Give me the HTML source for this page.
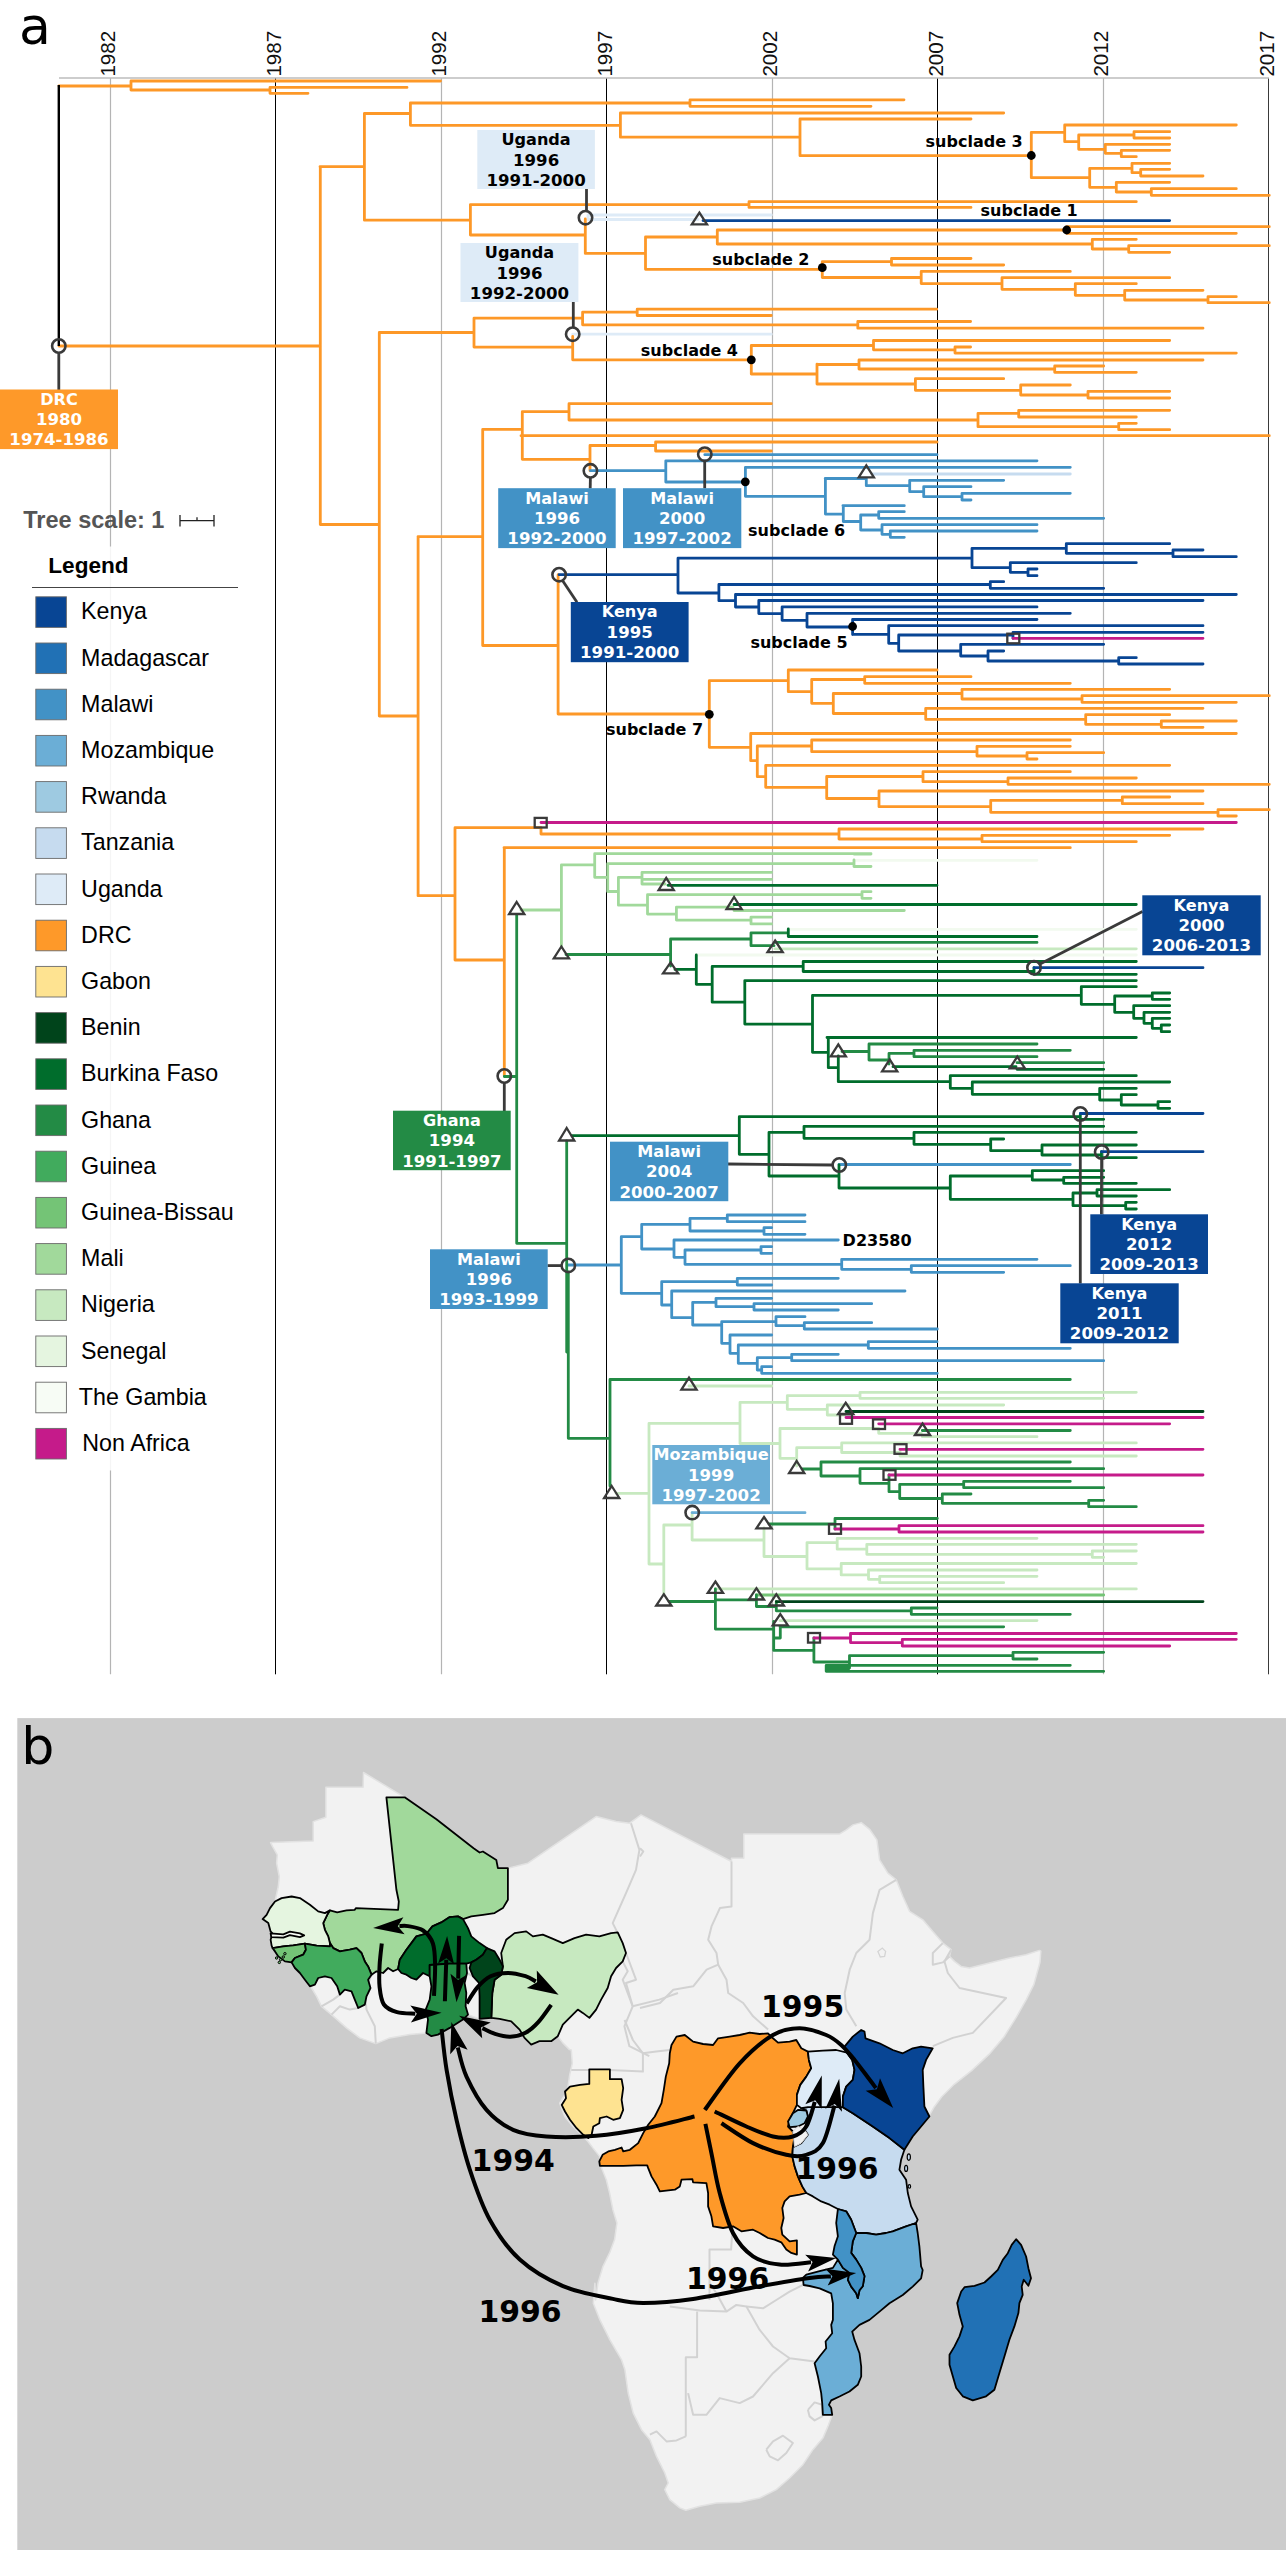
<!DOCTYPE html>
<html><head><meta charset="utf-8"><title>Figure</title>
<style>html,body{margin:0;padding:0;background:#fff}svg{display:block}text{font-family:"Liberation Sans",sans-serif}.dv text,text.dv{font-family:"DejaVu Sans","Liberation Sans",sans-serif}</style>
</head><body>
<svg width="1286" height="2550" viewBox="0 0 1286 2550">
<rect width="1286" height="2550" fill="#fff"/>
<text x="19" y="43.8" font-size="52" class="dv" fill="#000">a</text>
<path d="M110.5 78V1674.3" stroke="#b4b4b4" stroke-width="1.2"/>
<text transform="translate(115.3 76.6) rotate(-90)" font-size="20.6" fill="#111">1982</text>
<path d="M275.5 78V1674.3" stroke="#000" stroke-width="1"/>
<text transform="translate(280.8 76.6) rotate(-90)" font-size="20.6" fill="#111">1987</text>
<path d="M441.5 78V1674.3" stroke="#b4b4b4" stroke-width="1.2"/>
<text transform="translate(446.3 76.6) rotate(-90)" font-size="20.6" fill="#111">1992</text>
<path d="M606.5 78V1674.3" stroke="#000" stroke-width="1"/>
<text transform="translate(611.8 76.6) rotate(-90)" font-size="20.6" fill="#111">1997</text>
<path d="M772.5 78V1674.3" stroke="#b4b4b4" stroke-width="1.2"/>
<text transform="translate(777.3 76.6) rotate(-90)" font-size="20.6" fill="#111">2002</text>
<path d="M937.5 78V1674.3" stroke="#000" stroke-width="1"/>
<text transform="translate(942.8 76.6) rotate(-90)" font-size="20.6" fill="#111">2007</text>
<path d="M1103.5 78V1674.3" stroke="#b4b4b4" stroke-width="1.2"/>
<text transform="translate(1108.3 76.6) rotate(-90)" font-size="20.6" fill="#111">2012</text>
<path d="M1268.5 78V1674.3" stroke="#3a3a3a" stroke-width="1"/>
<text transform="translate(1273.8 76.6) rotate(-90)" font-size="20.6" fill="#111">2017</text>
<path d="M59 78H1269" stroke="#bdbdbd" stroke-width="1.5"/>
<g fill="none" stroke-width="2.8" stroke-linecap="round">
<path stroke="#F2FAEF" d="M854 860.3H1037M788.3 929.3H1136.3M696.3 955H1136.3"/>
<path stroke="#C7E9C0" d="M775 948.8H1136.3M689 1386H771.7M616 1493.3H648M649 1423.3V1564M649 1423.3H739M740 1402.3V1443.5M740 1402.3H786.3M787.3 1395.7V1409.3M787.3 1395.7H859M860 1392.3V1398.3M860 1392.3H1136.3M860 1398.3H1103.7M787.3 1409.3H826.3M827.3 1405V1415M827.3 1405H1003.7M827.3 1415H844.7M740 1443.5H779M780 1428.5V1458.3M780 1428.5H877.7M878.7 1428.5V1433.3M878.7 1433.3H921.3M922.3 1436.7H1037M780 1458.3H795.7M796.7 1447.7V1466M796.7 1447.7H840.7M841.7 1442.9V1452.5M841.7 1442.9H1136.3M841.7 1452.5H899M900 1449.3V1456M900 1456H1136.3M649 1564H662.8M663.8 1525V1594M663.8 1525H691.1M692.1 1512.7V1540M692.1 1540H763M764 1528V1556.5M764 1556.5H806M807 1542.6V1568.9M807 1542.6H836.2M837.2 1538.3V1549.2M837.2 1538.3H1037M837.2 1549.2H865.8M866.8 1544.3V1554.3M866.8 1544.3H1136.3M866.8 1554.3H1091.3M1092.3 1551V1557.3M1092.3 1551H1136.3M1092.3 1557.3H1103.7M807 1568.9H840.2M841.2 1563.5V1574.9M841.2 1563.5H1136.3M841.2 1574.9H867.5M868.5 1570V1579.3M868.5 1570H1037M868.5 1579.3H878.7M879.7 1576.3V1582.7M879.7 1576.3H1037M879.7 1582.7H1003.7M715.4 1588.9H1136.3M780 1620.6H1037"/>
<path stroke="#DEEBF7" d="M588 215H771.3M588 219.5H698M588 215V219.5M572.7 334.2H771.3"/>
<path stroke="#C6DBEF" d="M872 474H1070.3"/>
<path stroke="#A1D99B" d="M561.4 864.9V946M561.4 864.9H593.7M594.7 853.7V877.3M594.7 853.7H871M594.7 877.3H606.7M607.7 863.6V891.5M607.7 863.6H853M854 860V866.5M854 866.5H871M854 854H871M607.7 891.5H617.4M618.4 877.3V905.2M618.4 877.3H641M642 872.3V884M642 872.3H771.6M642 879.3H771.6M642 884H665M618.4 905.2H646.5M647.5 894.7V914.1M647.5 894.7H861M862 891.7V898.3M862 891.7H871M862 898.3H871M647.5 914.1H675.4M676.4 907.2V920.1M676.4 907.2H733M734 910.5H904.3M676.4 920.1H750M751 917.1V923.9M751 917.1H771.6M751 923.9H771.6M521 910H560.4"/>
<path stroke="#74C476" d="M756.4 1595H1103.7"/>
<path stroke="#FD9827" d="M59 86H130M131 81V90M131 81H440.5M131 90H269M270 87.4V93.3M270 87.4H407M270 93.3H308M59 346H319M320 166.7H363.4M364.4 113.5V220.2M364.4 113.5H409.4M410.4 103V125.3M410.4 103H689M690 99.8V106.3M690 99.8H904M690 106.3H871M410.4 125.3H619.4M620.4 113V137.2M620.4 113H1003.7M620.4 137.2H799M800 119V155.7M800 119H971M800 155.7H1030.3M1031.3 132.3V177.7M1031.3 132.3H1063.7M1064.7 125V141.7M1064.7 125H1236.3M1064.7 141.7H1077.7M1078.7 135V149.3M1078.7 135H1133M1134 131.7V138M1134 131.7H1169.7M1134 138H1169.7M1078.7 149.3H1104.3M1105.3 144.3V153.3M1105.3 144.3H1169.7M1105.3 153.3H1120.3M1121.3 150.3V156.7M1121.3 150.3H1169.7M1121.3 156.7H1136.3M1031.3 177.7H1088.7M1089.7 168.3V187.3M1089.7 168.3H1131M1132 163.3V172.7M1132 163.3H1169.7M1132 172.7H1139.7M1140.7 169.3V176M1140.7 169.3H1169.7M1140.7 176H1203M1089.7 187.3H1115.3M1116.3 182.3V192M1116.3 182.3H1169.7M1116.3 192H1150.3M1151.3 188.7V195.3M1151.3 188.7H1236.3M1151.3 195.3H1269.3M364.4 220.2H469.4M470.4 204.6V235M470.4 204.6H748M749 201.7V207.4M749 201.7H1136.3M749 207.4H971M470.4 235H584.3M585.3 219V253.4M585.3 253.4H644.5M645.5 237V269.3M645.5 237H716.3M717.3 230V244M717.3 230H1065.7M1066.7 226.7V233.3M1066.7 226.7H1269.3M1066.7 233.3H1236.3M717.3 244H1091.3M1092.3 239.3V249M1092.3 239.3H1136.3M1092.3 249H1127.7M1128.7 245.7V252.3M1128.7 245.7H1269.3M1128.7 252.3H1169.7M645.5 269.3H821.3M822.3 261.7V277.5M822.3 261.7H890.5M891.5 258.5V265M891.5 258.5H971M891.5 265H1003.7M822.3 277.5H920.2M921.2 271.4V283.6M921.2 271.4H1070.3M921.2 283.6H1001M1002 277.7V289.3M1002 277.7H1169.7M1002 289.3H1074.3M1075.3 283.7V295.3M1075.3 283.7H1136.3M1075.3 295.3H1123.7M1124.7 290.3V300M1124.7 290.3H1203M1124.7 300H1207M1208 296.7V302.7M1208 296.7H1236.3M1208 302.7H1269.3M379.3 332.5H473M474 318.2V347.1M474 318.2H581.6M582.6 312.2V324.8M582.6 312.2H636.2M637.2 309.2V315.5M637.2 309.2H936.7M637.2 315.5H771.3M582.6 324.8H856.8M857.8 321.5V328.2M857.8 321.5H970.6M857.8 328.2H1203M474 347.1H571.7M572.7 336.5V359.8M572.7 359.8H750.3M751.3 345.5V374M751.3 345.5H872.5M873.5 340.5V349.8M873.5 340.5H1169.7M873.5 349.8H954M955 347V353.1M955 347H970.6M955 353.1H1236.3M751.3 374H816M817 364.1V384M817 364.5H858M859 360V369M859 360H1203M859 369H1053.7M1054.7 366V372.3M1054.7 366H1103.7M1054.7 372.3H1136.3M817 384H914.4M915.4 378.7V390.3M915.4 378.7H1003.7M915.4 390.3H1019.7M1020.7 385V395M1020.7 385H1070.3M1020.7 395H1087M1088 391.3V398M1088 391.3H1169.7M1088 398H1169.7M569 420H977M978 413.3V426.7M978 413.3H1017.7M1018.7 410.3V417M1018.7 410.3H1169.7M1018.7 417H1136.3M978 426.7H1117.7M1118.7 423.3V429.7M1118.7 423.3H1136.3M1118.7 429.7H1169.7M569 403.7V420M569 403.7H771.3M418 536.7H481.7M482.7 429.3V645.5M482.7 429.3H521.3M522.3 411.7V459.3M522.3 411.7H568M521 435.7H1269.3M522.3 459.3H589M590 445.5V470.8M590 445.5H654.6M655.6 442V451M655.6 442H937M655.6 451H771.3M482.7 645.5H557.1M558.1 574.7V714M864.7 676.7V683.3M864.7 676.7H971M864.7 683.3H1070.3M962 689.3V699M962 689.3H1169.7M962 699H1081M1082 695.7V702.3M1082 695.7H1269.3M1082 702.3H1236.3M925.7 708.3V719.3M925.7 708.3H1203M925.7 719.3H1084.7M1085.7 714.7V724.3M1085.7 714.7H1169.7M1085.7 724.3H1160.3M1161.3 721V727.3M1161.3 721H1236.3M1161.3 727.3H1203M977 746.3V756M977 746.3H1070.3M977 756H1026M1027 752.7V759M1027 752.7H1103.7M1027 759H1037M923 771.7V781.7M923 771.7H1070.3M923 781.7H1007M1008 778V784.3M1008 778H1136.3M1008 784.3H1269.3M879 791V806.7M879 791H1203M879 806.7H989.7M990.7 800.3V812.3M990.7 800.3H1121.3M1122.3 797V803.7M1122.3 797H1169.7M1122.3 803.7H1203M990.7 812.3H1217M1218 809.7V816M1218 809.7H1269.3M1218 816H1236.3M982 835.3V841.7M982 835.3H1169.7M982 841.7H1136.3M558.1 714H708.3M709.3 680.7V747.3M709.3 680.7H787.3M788.3 670V691.7M788.3 670H937M788.3 691.7H810.7M811.7 679.5V703.3M811.7 679.5H863.7M811.7 703.3H832.3M833.3 693.5V713.5M833.3 693.5H961M833.3 713.5H924.7M709.3 747.3H749.7M750.7 733.5V760.7M750.7 733.5H1236.3M750.7 760.7H756.3M757.3 746V776.7M757.3 746H810.7M811.7 740V751.7M811.7 740H1070.3M811.7 751.7H976M757.3 776.7H764.7M765.7 765.3V787.3M765.7 765.3H1169.7M765.7 787.3H825.7M826.7 776.5V798.5M826.7 776.5H922M826.7 798.5H878M455 827.7H540M541 827.7V834M541 834H838M839 829V839M839 829H1203M839 839H981M504 847.7H1070.3M504.3 847.7V1076M455 827.7V960M418 895.7H454M455 960H503.3M320.3 166.7V524.5M320.3 524.5H378.3M379.3 332.5V716M379.3 716H417.1M418.1 536.7V895.5"/>
<path stroke="#6BAED6" d="M692.2 1512.7H805"/>
<path stroke="#4292C6" d="M704.8 454.7H937M665.8 460.8H1037M745.4 467.3H1070.3M590.4 470.6H664.8M665.8 460.8V482M665.8 482H744.4M745.4 467.3V496.3M745.4 496.3H824.2M825.2 478.5H865.3M866.3 478.3V485.7M866.3 485.7H908.7M909.7 480.3V491.7M909.7 480.3H1003.7M909.7 491.7H922.7M923.7 486.7V496.7M923.7 486.7H971M923.7 496.7H961M962 493.3V500M962 493.3H1070.3M962 500H971M842.9 505.7H904.3M860.7 515V530M860.7 515H877.7M878.7 511.7V518.3M878.7 511.7H904.3M878.7 518.3H1103.7M860.7 530H881M882 524.7V534.3M882 524.7H1037M882 534.3H889.3M890.3 531V537.3M890.3 531H1037M890.3 537.3H904.3M825.4 514.1H842.3M825.4 478.5V514.1M843.3 505.7V521.5M843.3 521.5H859.7M839 1164.5H1070.3M568.3 1265H620.3M621.3 1236.7V1293.3M621.3 1236.7H640.7M641.7 1224.3V1249M641.7 1224.3H689M690 1218.3V1231M690 1218.3H726.3M727.3 1215V1221.7M727.3 1215H805M727.3 1221.7H805M690 1231H763M764 1227.7V1234.3M764 1227.7H771.7M764 1234.3H805M641.7 1249H673M674 1240V1257.3M674 1240H838.3M674 1257.3H684M685 1250V1264.3M685 1250H760M761 1246.7V1253.3M761 1246.7H771.7M761 1253.3H771.7M685 1264.3H840.7M841.7 1259.3V1269.3M841.7 1259.3H1037M841.7 1269.3H910.3M911.3 1265.7V1272.3M911.3 1265.7H1070.3M911.3 1272.3H1003.7M621.3 1293.3H660.7M661.7 1281.7V1305M661.7 1281.7H736.3M737.3 1278.3V1285M737.3 1278.3H838.3M737.3 1285H771.7M661.7 1305H670.7M671.7 1291V1317.7M671.7 1291H905M671.7 1317.7H691.7M692.7 1302.3V1325M692.7 1302.3H715M716 1298.3V1306.7M716 1298.3H771.7M716 1306.7H753M754 1303.7V1310M754 1303.7H871.7M754 1310H838.3M692.7 1325H720.7M721.7 1321.7V1343.3M721.7 1321.7H775M776 1316.7V1325.7M776 1316.7H805M776 1325.7H803.3M804.3 1322.7V1329M804.3 1322.7H871.7M804.3 1329H937.3M721.7 1343.3H729M730 1335V1353.3M730 1335H771.7M730 1353.3H737.3M738.3 1345V1363.3M738.3 1345H867.3M868.3 1341.7V1348.3M868.3 1341.7H937M868.3 1348.3H1070.3M738.3 1363.3H756.3M757.3 1357.7V1370M757.3 1357.7H790.7M791.7 1354.3V1360.7M791.7 1354.3H838.3M791.7 1360.7H1103.7M757.3 1370H760.7M761.7 1366.7V1373.3M761.7 1366.7H771.7M761.7 1373.3H937.3"/>
<path stroke="#238B45" d="M566 954.5H669.6M670.6 939V966M670.6 939H750M751 932.8V945.7M751 932.8H787.3M751 945.7H774M775 942.4H1037M869 1044V1060M869 1044H1037M869 1060H888M889 1053.3V1064M889 1053.3H913M914 1050.3V1056.7M914 1050.3H1070.3M914 1056.7H1037M1017 1062.7H1103.7M516.7 915V1243.3M504.3 1076.5H515.7M516.7 1243.3H565.7M566.7 1141V1352M842 1051.5H868M568.3 1272V1438.3M568.3 1438.3H609M610 1379.5V1486M610 1379.5H1070.3M922.3 1430.5H1070.3M802 1469H820M821 1462V1476M821 1462H1070.3M821 1476H859M860 1468.7V1483.3M860 1468.7H1103.7M860 1483.3H888M889 1475V1491.7M889 1491.7H898.7M899.7 1484.3V1498.5M899.7 1484.3H962.7M963.7 1481.3V1487.7M963.7 1481.3H1070.3M963.7 1487.7H1103.7M899.7 1498.5H941.3M942.3 1494V1503.3M942.3 1494H971M942.3 1503.3H1087.7M1088.7 1500.3V1506.7M1088.7 1500.3H1103.7M1088.7 1506.7H1136.3M769 1524H834M835 1518.5V1529M835 1518.5H937.3M669 1601.5H714.4M715.4 1589V1629.1M715.4 1599.8H755.4M756.4 1595V1606.5M756.4 1606.5H775.3M776.3 1601.6V1610.8M776.3 1610.8H910.3M911.3 1608V1614.3M911.3 1608H937M911.3 1614.3H1070.3M715.4 1629.1H772.7M773.7 1621.4V1650.4M780 1626.8H1003.7M780.3 1626.8V1638M773.7 1638H779.3M773.7 1650.4H812.9M813.9 1638V1662M813.9 1662H848.5M849.5 1655.6V1668M849.5 1655.6H1012M1013 1652.3V1659M1013 1652.3H1103.7M1013 1659H1037M826.2 1665.3H1070.3M826.2 1671.3H1103.7M826.2 1668H848.5M826.2 1665.3V1671.3M826.2 1666.7H848.5M826.2 1669.6H848.5"/>
<path stroke="#006D2C" d="M668 885.3H937M734 904.5H1136.3M788.3 929V936.5M788.3 936.5H1037M675 969.4H695.3M696.3 955V984.3M696.3 984.3H711.2M712.2 966.4V1002.2M712.2 966.4H802.2M803.2 961.5V971.5M803.2 961.5H1136.3M803.2 971.5H1033M1034 967.7V974.3M1034 974.3H1136.3M712.2 1002.2H743.8M744.8 980.6V1024.1M744.8 980.6H1136.3M744.8 1024.1H811.5M812.5 995.3H1080.3M1081.3 986.7V1004.3M1081.3 986.7H1136.3M1081.3 1004.3H1113.7M1114.7 996V1012.3M1114.7 996H1151.3M1152.3 993V999.3M1152.3 993H1169.7M1152.3 999.3H1169.7M1114.7 1012.3H1132.7M1133.7 1005.7V1018.3M1133.7 1005.7H1169.7M1133.7 1018.3H1143M1144 1012.3V1023.3M1144 1012.3H1169.7M1144 1023.3H1151.3M1152.3 1018.3V1028.3M1152.3 1018.3H1169.7M1152.3 1028.3H1160.3M1161.3 1025V1031.7M1161.3 1025H1169.7M1161.3 1031.7H1169.7M827 1037.5H1136.3M893 1066.7H1016M1017 1069.3H1103.7M950.3 1075.7V1088.3M950.3 1075.7H1136.3M950.3 1088.3H971.3M972.3 1082V1094.3M972.3 1082H1169.7M972.3 1094.3H1098.7M1099.7 1088.3V1100M1099.7 1088.3H1136.3M1099.7 1100H1120.3M1121.3 1094.7V1105M1121.3 1094.7H1136.3M1121.3 1105H1157M1158 1101.7V1108.3M1158 1101.7H1169.7M1158 1108.3H1169.7M572 1135.7H738.3M739.3 1116.7V1154.3M739.3 1116.7H1079.3M1080.3 1119.3H1103.7M1080.3 1114V1119.3M739.3 1154.3H768M769 1132.3V1176M769 1132.3H803M804 1126.3V1138.3M804 1126.3H1103.7M804 1138.3H913M914 1132.3V1144.3M914 1132.3H1136.3M914 1144.3H989.7M990.7 1139V1150.7M990.7 1139H1003.7M990.7 1150.7H1041M1042 1145V1155M1042 1145H1136.3M1042 1155H1100.5M1101.5 1151.7V1157.7M1101.5 1157.7H1136.3M769 1176H838M839 1165V1188M839 1188H949.3M950.3 1176V1199.3M950.3 1176H1031.3M1032.3 1170.7V1180M1032.3 1170.7H1103.7M1032.3 1180H1062.7M1063.7 1177.3V1183.3M1063.7 1177.3H1103.7M1063.7 1183.3H1136.3M950.3 1199.3H1072M1073 1193V1205.7M1073 1193H1096M1097 1189.7V1196M1097 1189.7H1169.7M1097 1196H1136.3M1073 1205.7H1124.7M1125.7 1202.3V1209M1125.7 1202.3H1136.3M1125.7 1209H1136.3M812.5 995.3V1052.3M812.5 1052.3H827.3M828.3 1037.5V1067.7M828.3 1067.7H837.3M838.3 1056V1081.7M838.3 1081.7H949.3"/>
<path stroke="#00441B" d="M846 1411.5H1203M776.3 1601.6H1203"/>
<path stroke="#084594" d="M703 220.6H1169.7M972 548.3V567.7M972 548.3H1065.3M1066.3 543.7V553.3M1066.3 543.7H1169.7M1066.3 553.3H1172M1173 550V556.7M1173 550H1203M1173 556.7H1236.3M972 567.7H1009.3M1010.3 562.7V572.3M1010.3 562.7H1136.3M1010.3 572.3H1027M1028 569V575.7M1028 569H1037M1028 575.7H1037M990.3 581.7V588.3M990.3 581.7H1003.7M990.3 588.3H1103.7M559.1 574.7H677M678 558.2V593M678 558.2H971M678 593H717.9M718.9 584.5V600.7M718.9 584.5H989.3M718.9 600.7H734.5M735.5 594.5V607M735.5 594.5H1236.3M735.5 607H757.8M758.8 600.5V613.6M758.8 600.5H1203M758.8 613.6H781.1M782.1 607.3V620.3M782.1 620.3H806M807 613.6V627M807 627H851.6M852.6 619.6V634.6M782.1 606.9H1037M807 613.3H1070.3M852.6 619.5H1037M852.6 634.3H887.7M888.7 625.7V643.3M888.7 625.7H1203M888.7 643.3H897.7M898.7 635V651M898.7 635H1012M1013 632.3H1203M1013 632.3V638.3M898.7 651H959.7M960.7 644.3V656M960.7 644.3H1103.7M960.7 656H987M988 651V661M988 651H1003.7M988 661H1117.7M1118.7 657.7V664M1118.7 657.7H1136.3M1118.7 664H1203M1034 967.7H1203M1080.3 1113.5H1203M1101.5 1151.7H1203"/>
<path stroke="#C51B8A" d="M1013 638.3H1203M541 822.5H1236.3M846 1417.5H1203M878.7 1423.8H1169.7M900 1449.3H1203M889 1475H1203M835 1529H898M899 1525.7V1532M899 1525.7H1203M899 1532H1203M813.9 1638H849.5M850.5 1633.5V1642.6M850.5 1633.5H1236.3M850.5 1642.6H901.3M902.3 1639.3V1646M902.3 1639.3H1236.3M902.3 1646H1169.7"/>
</g>
<path d="M58.8 85V346" stroke="#000" stroke-width="2.4"/>
<g stroke="#3a3a3a" stroke-width="2.8"><path d="M58.8 353.0L58.8 390.0"/><path d="M586.5 189.0L586.5 211.0"/><path d="M573.3 302.0L573.3 327.5"/><path d="M590.4 477.5L590.2 488.5"/><path d="M704.7 461.0L704.7 488.5"/><path d="M562.5 580.5L577.0 602.3"/><path d="M1040.0 964.0L1142.5 911.5"/><path d="M504.3 1083.0L504.3 1111.0"/><path d="M728.0 1164.0L832.6 1165.0"/><path d="M547.5 1265.6L561.6 1265.6"/><path d="M1080.3 1120.8L1080.3 1283.5"/><path d="M1101.6 1158.8L1101.4 1214.5"/></g>
<g class="dv" font-weight="bold" font-size="16.6" text-anchor="middle"><rect x="0.0" y="389.5" width="118.0" height="59.6" fill="#FE9929"/><text x="59.0" y="404.8" fill="#fff" font-size="16.1">DRC</text><text x="59.0" y="425.1" fill="#fff">1980</text><text x="59.0" y="445.3" fill="#fff">1974-1986</text><rect x="477.3" y="130.0" width="117.6" height="59.0" fill="#DEEBF7"/><text x="536.1" y="145.3" fill="#000" font-size="16.1">Uganda</text><text x="536.1" y="165.6" fill="#000">1996</text><text x="536.1" y="185.8" fill="#000">1991-2000</text><rect x="460.5" y="243.0" width="117.9" height="59.0" fill="#DEEBF7"/><text x="519.5" y="258.3" fill="#000" font-size="16.1">Uganda</text><text x="519.5" y="278.6" fill="#000">1996</text><text x="519.5" y="298.8" fill="#000">1992-2000</text><rect x="498.2" y="488.2" width="117.5" height="59.9" fill="#4292C6"/><text x="557.0" y="503.5" fill="#fff" font-size="16.1">Malawi</text><text x="557.0" y="523.8" fill="#fff">1996</text><text x="557.0" y="544.0" fill="#fff">1992-2000</text><rect x="623.0" y="488.2" width="118.3" height="59.9" fill="#4292C6"/><text x="682.1" y="503.5" fill="#fff" font-size="16.1">Malawi</text><text x="682.1" y="523.8" fill="#fff">2000</text><text x="682.1" y="544.0" fill="#fff">1997-2002</text><rect x="570.8" y="602.0" width="117.8" height="60.2" fill="#084594"/><text x="629.7" y="617.3" fill="#fff" font-size="16.1">Kenya</text><text x="629.7" y="637.5" fill="#fff">1995</text><text x="629.7" y="657.8" fill="#fff">1991-2000</text><rect x="1142.3" y="895.3" width="118.4" height="60.0" fill="#084594"/><text x="1201.5" y="910.6" fill="#fff" font-size="16.1">Kenya</text><text x="1201.5" y="930.8" fill="#fff">2000</text><text x="1201.5" y="951.1" fill="#fff">2006-2013</text><rect x="393.0" y="1110.7" width="117.7" height="59.5" fill="#238B45"/><text x="451.9" y="1126.0" fill="#fff" font-size="16.1">Ghana</text><text x="451.9" y="1146.2" fill="#fff">1994</text><text x="451.9" y="1166.5" fill="#fff">1991-1997</text><rect x="610.0" y="1141.7" width="118.3" height="59.5" fill="#4292C6"/><text x="669.1" y="1157.0" fill="#fff" font-size="16.1">Malawi</text><text x="669.1" y="1177.2" fill="#fff">2004</text><text x="669.1" y="1197.5" fill="#fff">2000-2007</text><rect x="430.0" y="1249.3" width="117.7" height="59.7" fill="#4292C6"/><text x="488.9" y="1264.6" fill="#fff" font-size="16.1">Malawi</text><text x="488.9" y="1284.8" fill="#fff">1996</text><text x="488.9" y="1305.1" fill="#fff">1993-1999</text><rect x="1090.3" y="1214.3" width="117.7" height="59.7" fill="#084594"/><text x="1149.1" y="1229.6" fill="#fff" font-size="16.1">Kenya</text><text x="1149.1" y="1249.8" fill="#fff">2012</text><text x="1149.1" y="1270.1" fill="#fff">2009-2013</text><rect x="1060.3" y="1283.3" width="118.4" height="60.0" fill="#084594"/><text x="1119.5" y="1298.6" fill="#fff" font-size="16.1">Kenya</text><text x="1119.5" y="1318.8" fill="#fff">2011</text><text x="1119.5" y="1339.1" fill="#fff">2009-2012</text><rect x="652.3" y="1445.0" width="117.7" height="59.3" fill="#6BAED6"/><text x="711.1" y="1460.3" fill="#fff" font-size="16.1">Mozambique</text><text x="711.1" y="1480.5" fill="#fff">1999</text><text x="711.1" y="1500.8" fill="#fff">1997-2002</text></g>
<g fill="none" stroke="#3a3a3a" stroke-width="2.3" stroke-linejoin="miter"><circle cx="58.8" cy="346.0" r="6.7" stroke-width="2.6"/><circle cx="585.5" cy="217.7" r="6.7" stroke-width="2.6"/><circle cx="572.7" cy="334.2" r="6.7" stroke-width="2.6"/><circle cx="590.4" cy="470.8" r="6.7" stroke-width="2.6"/><circle cx="704.8" cy="454.2" r="6.7" stroke-width="2.6"/><circle cx="559.1" cy="574.7" r="6.7" stroke-width="2.6"/><circle cx="1034.0" cy="967.7" r="6.7" stroke-width="2.6"/><circle cx="504.3" cy="1076.0" r="6.7" stroke-width="2.6"/><circle cx="839.3" cy="1165.0" r="6.7" stroke-width="2.6"/><circle cx="1080.3" cy="1114.0" r="6.7" stroke-width="2.6"/><circle cx="1101.7" cy="1152.0" r="6.7" stroke-width="2.6"/><circle cx="568.3" cy="1265.4" r="6.7" stroke-width="2.6"/><circle cx="692.2" cy="1512.6" r="6.7" stroke-width="2.6"/><path d="M699.4 212.7L707.0 224.4H691.8Z"/><path d="M866.3 465.3L873.9 477.3H858.7Z"/><path d="M516.7 902.0L524.3 914.0H509.1Z"/><path d="M561.4 946.5L569.0 958.3H553.8Z"/><path d="M666.2 877.8L673.8 890.0H658.6Z"/><path d="M734.1 897.0L741.7 909.2H726.5Z"/><path d="M775.1 940.5L782.7 952.2H767.5Z"/><path d="M670.6 962.4L678.2 973.4H663.0Z"/><path d="M838.3 1044.3L845.9 1056.3H830.7Z"/><path d="M889.7 1059.3L897.3 1071.3H882.1Z"/><path d="M1017.3 1056.7L1024.9 1068.3H1009.7Z"/><path d="M566.7 1128.0L574.3 1140.5H559.1Z"/><path d="M689.0 1377.7L696.6 1389.7H681.4Z"/><path d="M611.7 1486.0L619.3 1498.0H604.1Z"/><path d="M845.7 1402.7L853.3 1414.0H838.1Z"/><path d="M922.5 1423.5L930.1 1435.0H914.9Z"/><path d="M796.7 1461.0L804.3 1473.0H789.1Z"/><path d="M764.0 1517.0L771.6 1528.3H756.4Z"/><path d="M663.8 1594.2L671.4 1605.5H656.2Z"/><path d="M715.4 1581.5L723.0 1592.8H707.8Z"/><path d="M756.4 1588.2L764.0 1599.5H748.8Z"/><path d="M776.3 1594.2L783.9 1605.5H768.7Z"/><path d="M780.3 1614.1L787.9 1625.4H772.7Z"/><rect x="1007.3" y="633.7" width="12" height="9.6"/><rect x="534.7" y="817.9" width="12" height="9.6"/><rect x="840.0" y="1414.2" width="12" height="9.6"/><rect x="873.0" y="1419.4" width="12" height="9.6"/><rect x="894.5" y="1444.2" width="12" height="9.6"/><rect x="883.5" y="1470.2" width="12" height="9.6"/><rect x="829.0" y="1524.2" width="12" height="9.6"/><rect x="808.0" y="1633.0" width="12" height="9.6"/></g><g fill="#000"><circle cx="1031.3" cy="155.5" r="4.4"/><circle cx="1066.7" cy="230.0" r="4.4"/><circle cx="822.3" cy="267.7" r="4.4"/><circle cx="751.3" cy="359.8" r="4.4"/><circle cx="745.3" cy="481.8" r="4.4"/><circle cx="852.6" cy="626.5" r="4.4"/><circle cx="709.3" cy="714.3" r="4.4"/></g>
<g class="dv" font-weight="bold" font-size="16" fill="#000"><text x="925.6" y="147.3">subclade 3</text><text x="980.6" y="216.0">subclade 1</text><text x="712.3" y="265.0">subclade 2</text><text x="640.8" y="355.8">subclade 4</text><text x="748.1" y="535.8">subclade 6</text><text x="750.4" y="648.0">subclade 5</text><text x="606.0" y="735.0">subclade 7</text><text x="842.6" y="1246.0">D23580</text></g>
<rect x="20" y="546.5" width="222" height="924" fill="#fff" fill-opacity="0.86"/>
<text x="23.3" y="527.8" font-size="23.5" font-weight="bold" fill="#555">Tree scale: 1</text>
<path d="M180 515V526.4M214 515V526.4M180 520.7H214M197 517.2V520.7" stroke="#222" stroke-width="1.3" fill="none"/>
<text x="48.3" y="572.8" font-size="22.6" font-weight="bold" fill="#000">Legend</text>
<path d="M32 587.5H238" stroke="#444" stroke-width="1"/>
<rect x="35.8" y="596.8" width="30.6" height="30.6" fill="#084594" stroke="#6a6a6a" stroke-width="0.9"/>
<text x="81.1" y="619.4" font-size="23.25" fill="#000">Kenya</text>
<rect x="35.8" y="643.0" width="30.6" height="30.6" fill="#2171B5" stroke="#6a6a6a" stroke-width="0.9"/>
<text x="81.1" y="665.6" font-size="23.25" fill="#000">Madagascar</text>
<rect x="35.8" y="689.2" width="30.6" height="30.6" fill="#4292C6" stroke="#6a6a6a" stroke-width="0.9"/>
<text x="81.1" y="711.8" font-size="23.25" fill="#000">Malawi</text>
<rect x="35.8" y="735.4" width="30.6" height="30.6" fill="#6BAED6" stroke="#6a6a6a" stroke-width="0.9"/>
<text x="81.1" y="758.0" font-size="23.25" fill="#000">Mozambique</text>
<rect x="35.8" y="781.6" width="30.6" height="30.6" fill="#9ECAE1" stroke="#6a6a6a" stroke-width="0.9"/>
<text x="81.1" y="804.2" font-size="23.25" fill="#000">Rwanda</text>
<rect x="35.8" y="827.8" width="30.6" height="30.6" fill="#C6DBEF" stroke="#6a6a6a" stroke-width="0.9"/>
<text x="81.1" y="850.4" font-size="23.25" fill="#000">Tanzania</text>
<rect x="35.8" y="874.0" width="30.6" height="30.6" fill="#DEEBF7" stroke="#6a6a6a" stroke-width="0.9"/>
<text x="81.1" y="896.6" font-size="23.25" fill="#000">Uganda</text>
<rect x="35.8" y="920.2" width="30.6" height="30.6" fill="#FE9929" stroke="#6a6a6a" stroke-width="0.9"/>
<text x="81.1" y="942.8" font-size="23.25" fill="#000">DRC</text>
<rect x="35.8" y="966.4" width="30.6" height="30.6" fill="#FEE391" stroke="#6a6a6a" stroke-width="0.9"/>
<text x="81.1" y="989.0" font-size="23.25" fill="#000">Gabon</text>
<rect x="35.8" y="1012.6" width="30.6" height="30.6" fill="#00441B" stroke="#6a6a6a" stroke-width="0.9"/>
<text x="81.1" y="1035.2" font-size="23.25" fill="#000">Benin</text>
<rect x="35.8" y="1058.8" width="30.6" height="30.6" fill="#006D2C" stroke="#6a6a6a" stroke-width="0.9"/>
<text x="81.1" y="1081.4" font-size="23.25" fill="#000">Burkina Faso</text>
<rect x="35.8" y="1105.0" width="30.6" height="30.6" fill="#238B45" stroke="#6a6a6a" stroke-width="0.9"/>
<text x="81.1" y="1127.6" font-size="23.25" fill="#000">Ghana</text>
<rect x="35.8" y="1151.2" width="30.6" height="30.6" fill="#41AB5D" stroke="#6a6a6a" stroke-width="0.9"/>
<text x="81.1" y="1173.8" font-size="23.25" fill="#000">Guinea</text>
<rect x="35.8" y="1197.4" width="30.6" height="30.6" fill="#74C476" stroke="#6a6a6a" stroke-width="0.9"/>
<text x="81.1" y="1220.0" font-size="23.25" fill="#000">Guinea-Bissau</text>
<rect x="35.8" y="1243.6" width="30.6" height="30.6" fill="#A1D99B" stroke="#6a6a6a" stroke-width="0.9"/>
<text x="81.1" y="1266.2" font-size="23.25" fill="#000">Mali</text>
<rect x="35.8" y="1289.8" width="30.6" height="30.6" fill="#C7E9C0" stroke="#6a6a6a" stroke-width="0.9"/>
<text x="81.1" y="1312.4" font-size="23.25" fill="#000">Nigeria</text>
<rect x="35.8" y="1336.0" width="30.6" height="30.6" fill="#E5F5E0" stroke="#6a6a6a" stroke-width="0.9"/>
<text x="81.1" y="1358.6" font-size="23.25" fill="#000">Senegal</text>
<rect x="35.8" y="1382.2" width="30.6" height="30.6" fill="#F7FCF5" stroke="#6a6a6a" stroke-width="0.9"/>
<text x="78.8" y="1404.8" font-size="23.25" fill="#000">The Gambia</text>
<rect x="35.8" y="1428.4" width="30.6" height="30.6" fill="#C51B8A" stroke="#6a6a6a" stroke-width="0.9"/>
<text x="82.3" y="1451.0" font-size="23.25" fill="#000">Non Africa</text>
<rect x="17.3" y="1718.1" width="1269" height="832" fill="#CCCCCC"/>
<path d="M262.6 1919.1L266.6 1914.8L270 1908.1L275 1901.5L278.3 1886.5L279.3 1876.5L276.6 1863.2L277.3 1854.9L272.6 1846.6L270.6 1842.6L313.2 1840.9L313.2 1821.6L325.9 1817.3L325.9 1787.3L363.1 1787.3L363.5 1772.5L404.7 1797.3L436.4 1819.3L473.6 1848.2L479.6 1852.5L482.9 1851.5L496.3 1859.9L497.9 1868.2L507.9 1868.2L527.9 1863.2L596.1 1816.6L616.1 1821.6L629.4 1823.3L641 1814.9L731.5 1861.5L731.5 1858.2L743.8 1858.2L743.8 1833.9L839.7 1833.9L846.3 1829.9L853 1824.9L861.3 1822.6L869.6 1829.3L876.9 1839.9L879.6 1859.9L887.9 1873.2L896.2 1879.8L902.9 1896.5L909.6 1911.4L922.9 1919.8L932.8 1931.4L942.8 1943.1L951.1 1949.7L949.5 1956.4L954.5 1961.4L961.1 1966.4L969.5 1968L989.4 1963L1009.4 1958L1026 1954.7L1039.3 1950.4L1040.8 1951.1L1040 1962.3L1033.8 1984.7L1026.3 1999.7L1016.4 2017.1L1003.9 2037L989 2054.4L971.6 2070.6L954.2 2084.3L941.7 2096.7L934.3 2106.7L929.3 2115.4L929.4 2116.5L921.1 2126.5L912.7 2136.5L904.4 2149.8L901.1 2159.8L899.4 2169.8L906.1 2179.7L907.8 2193L911.1 2206.4L917.7 2219.7L917.7 2233L919.4 2246.3L921.1 2266.3L922.7 2270L921.1 2278.3L912.7 2286.6L902.8 2295L889.5 2303.3L879.5 2311.6L869.5 2319.9L859.5 2324.9L852.2 2331.6L854.5 2339.9L859.5 2353.2L861.2 2366.5L861.2 2376.5L857.8 2384.8L849.5 2391.5L839.5 2396.5L831.2 2400.4L828.9 2404.8L831.2 2408.1L832.2 2414.8L827.9 2426.4L822.9 2438.1L812.9 2449.7L802.9 2464.7L789.6 2478L776.3 2489.6L759.7 2498L739.7 2502.3L716.4 2502.9L699.8 2506.3L685.8 2510.3L679.8 2507.9L669.8 2499.6L664.8 2489.6L668.2 2483L664.8 2473L656.5 2456.4L649.9 2439.7L641.5 2429.7L633.2 2413.1L628.2 2393.1L624.9 2369.8L621.6 2359.9L609.9 2339.9L599.9 2319.9L593.3 2303.3L594.9 2283.3L595.6 2299.9L598 2282.9L603 2266.3L609.6 2252.9L614.6 2239.6L616.9 2223L612.9 2209.7L609.6 2193L606.3 2179.7L600.3 2164.8L599.6 2156.4L593 2148.1L588 2141.5L583 2136.5L573 2126.5L564.7 2116.5L559.7 2103.2L564.7 2094.9L568 2086.6L569.7 2074.9L572.3 2063.3L571.3 2050L569.5 2049.6L562.8 2042.9L557.8 2036.2L551.2 2041.2L539.5 2041.2L531.2 2044.6L524.5 2037.9L519.6 2029.6L511.2 2021.3L499.6 2018.9L491.3 2017.9L479.6 2018.9L468 2014.6L463 2019.6L449.7 2027.9L438 2034.6L431.4 2036.2L426.4 2032.9L409.7 2034.6L389.8 2037.9L375.8 2043.6L359.8 2037.9L346.5 2027.9L331.5 2014.6L321.5 2006.3L316.6 1996.3L311.6 1988L304.9 1979.7L299.9 1973L294.9 1968L291.6 1962.4L284.9 1961.4L278.3 1956.4L275 1951.4L272.6 1948.1L271.6 1945.7L270.6 1939.7L272.6 1933.7L270.6 1931.4L268.3 1923.1Z" fill="#F2F2F2" stroke="#E2E2E2" stroke-width="1.5" stroke-linejoin="round"/>
<g fill="none" stroke="#D2D2D2" stroke-width="2" stroke-linejoin="round"><path d="M697.1 2311.6L697.1 2357.2L685.8 2357.2L685.8 2436.4"/><path d="M669.8 2306.6L699.8 2310.6L726.4 2311.6L736.4 2304.9L746.4 2306.6L759.7 2329.9L773 2346.5L789.6 2358.2L814.6 2361.5"/><path d="M789.6 2358.2L773 2373.2L753 2396.5L739.7 2403.1L719.7 2398.1L706.4 2414.8L693.1 2414.8L688.1 2393.1"/><path d="M649.9 2434.7L656.5 2431.4L666.5 2441.4L676.5 2440.4L685.8 2436.4"/><path d="M766.3 2449.7L773 2441.4L783 2435.7L792.9 2443L786.3 2453L778 2460.3L769.7 2456.4L766.3 2449.7"/><path d="M807.9 2409.8L814.6 2402.4L822.2 2404.8L822.2 2416.4L814.6 2420.4L809.6 2416.4L807.9 2409.8"/><path d="M746.4 2306.6L763 2308.3L776.3 2300L789.6 2291.6L802.9 2285"/><path d="M709.8 2283.3L716.4 2293.3L726.4 2311.6"/><path d="M571.3 2069.9L609.6 2069.9L642.9 2071.6L642.9 2053.3L632.9 2040L624.6 2020"/><path d="M669.5 2050L656.2 2051.6L642.9 2053.3"/><path d="M709.5 2299.9L709.5 2249.6L731.1 2249.6L732.7 2226.3"/><path d="M731.5 1861.5L731.5 1906.5L719.9 1908.1L711.5 1926.4L708.2 1939.7L716.5 1953L718.2 1964.7L706.6 1969.7L693.2 1986.3L673.3 1989.7L660 2003L640 2008"/><path d="M718.2 1964.7L726.5 1979.7L728.2 1993L743.2 2003L753.1 2016.3L768.1 2029.6"/><path d="M896.2 1879.8L879.6 1889.8L872.9 1913.1L869.6 1939.7L856.3 1953L849.7 1969.7L844.7 1993L846.3 2009.6L856.3 2026.3"/><path d="M942.8 1943.1L932.8 1953L932.8 1964.7L942.8 1962.4L949.5 1956.4"/><path d="M951.1 1949.7L944.5 1961.4L947.8 1973L959.5 1988L1006.1 1998L972.8 2032.9L952.8 2037.9L932.8 2046.2"/><path d="M631 1823.3L639.4 1849.9L636 1869.9L626 1893.1L612.7 1923.1L619.4 1936.4"/><path d="M626 1953L636 1979.7L626 1983L632.7 2006.3L659.3 1999.6L678 1993"/><path d="M622.7 1961.4L627.7 1971.3L622.7 1979.7L632.7 2006.3L624.4 2026.3L629.4 2046.2L649.3 2056.2"/><path d="M371.5 1974.7L364.8 1993L366.5 2009.6L374.8 2026.3L375.8 2043.6"/><path d="M321.5 2006.3L333.2 1999.6L339.9 1994.6"/><path d="M331.5 2014.6L339.9 2006.3L349.8 2009.6L358.2 2008"/><path d="M467 1973L473 1976.3"/><path d="M640 1856.5L643.3 1851.5L640 1848.2"/></g>
<path d="M877.9 1951.4L882.3 1948.1L885.6 1951.4L884.6 1956.4L880.3 1957Z" fill="#F2F2F2" stroke="#D4D4D4" stroke-width="1.3"/>
<g stroke="#000" stroke-width="1.8" stroke-linejoin="round"><path d="M404.7 1797.3L436.4 1819.3L473.6 1848.2L479.6 1852.5L482.9 1851.5L496.3 1859.9L497.9 1868.2L507.9 1868.2L507.9 1899.8L502.9 1908.1L494.6 1913.1L482.9 1914.8L471.3 1916.4L463 1919.1L458 1916.4L449.7 1917.1L441.3 1922.4L432.4 1926.4L426.4 1933.7L416.4 1936.4L411.4 1943.1L406.4 1949.7L399.8 1959.7L398.1 1969L393.1 1971.3L388.1 1968L383.1 1973L376.5 1971.3L371.5 1974.7L368.1 1966.4L364.8 1961.4L361.5 1953L356.5 1948.1L349.8 1949.7L339.9 1951.4L333.2 1948.1L329.9 1943.1L328.2 1936.4L324.9 1929.8L323.2 1923.1L327.2 1914.8L329.9 1910.4L337.2 1912.4L346.5 1910.4L354.8 1909.8L355.8 1908.1L398.1 1909.8L398.8 1901.5L396.4 1889.8L386.4 1797.3Z" fill="#A1D99B"/><path d="M329.9 1910.4L324.9 1913.1L318.2 1911.4L309.9 1904.8L299.9 1898.1L291.6 1896.5L281.6 1898.1L275 1901.5L270 1908.1L266.6 1914.8L262.6 1919.1L268.3 1923.1L270.6 1931.4L272.6 1933.7L270.6 1939.7L271.6 1945.7L272.6 1948.1L283.3 1946.4L293.3 1945.4L304.9 1943.7L316.6 1945.7L329.9 1946.4L329.9 1943.1L328.2 1936.4L324.9 1929.8L323.2 1923.1L327.2 1914.8L329.9 1910.4Z" fill="#E5F5E0"/><path d="M270.6 1933.4L283.3 1934.4L289.9 1931.7L299.9 1933.4L304.2 1935.4L299.9 1937.1L289.9 1935.1L283.3 1937.7L271.3 1937.1Z" fill="#F7FCF5"/><path d="M272.6 1948.1L283.3 1946.4L293.3 1945.4L304.9 1943.7L305.9 1949.7L303.2 1954.7L294.9 1958L291.6 1962.4L284.9 1961.4L278.3 1956.4L275 1951.4Z" fill="#74C476"/><path d="M304.9 1943.7L316.6 1945.7L329.9 1946.4L329.9 1943.1L333.2 1948.1L339.9 1951.4L349.8 1949.7L356.5 1948.1L361.5 1953L364.8 1961.4L368.1 1966.4L371.5 1974.7L368.1 1979.7L370.5 1988L366.5 1996.3L364.8 2004.6L358.2 2008L354.8 1999.6L351.5 1991.3L344.8 1989.7L339.9 1994.6L337.2 1986.3L331.5 1978L324.9 1976.3L318.2 1978L314.9 1984.7L309.9 1986.3L304.9 1979.7L299.9 1973L294.9 1968L291.6 1962.4L294.9 1958L303.2 1954.7L305.9 1949.7Z" fill="#41AB5D"/><path d="M502.9 1966.4L501.2 1953L506.2 1939.7L514.6 1933.1L526.2 1931.4L532.9 1936.4L542.8 1934.7L551.2 1938.1L562.8 1943.1L574.5 1938.1L586.1 1934.7L599.4 1936.4L611.1 1933.1L617.7 1932.4L622.7 1943.1L626 1953L622.7 1961.4L616.1 1968L611.1 1976.3L607.7 1988L601.1 1999.6L596.1 2009.6L589.4 2017.9L582.8 2012.9L577.8 2009.6L569.5 2017.9L562.8 2024.6L557.8 2036.2L551.2 2041.2L539.5 2041.2L531.2 2044.6L524.5 2037.9L519.6 2029.6L511.2 2021.3L499.6 2018.9L491.3 2017.9L492.3 1993L494.6 1979.7L501.2 1974.7Z" fill="#C7E9C0"/><path d="M463 1919.1L468 1928.1L471.3 1936.4L479.6 1943.1L486.9 1948.1L482.9 1954.7L476.3 1959.7L471.3 1962.4L466.3 1963.7L449.7 1963.7L429.7 1965L429.7 1976.3L423 1973L416.4 1979.7L411.4 1978L406.4 1974.7L401.4 1973L398.1 1969L399.8 1959.7L406.4 1949.7L411.4 1943.1L416.4 1936.4L426.4 1933.7L432.4 1926.4L441.3 1922.4L449.7 1917.1L458 1916.4L463 1919.1Z" fill="#006D2C"/><path d="M486.9 1948.1L494.6 1951.4L499.6 1959.7L502.9 1966.4L501.2 1974.7L494.6 1979.7L492.3 1993L491.3 2017.9L479.6 2018.9L479.6 1996.3L479 1983L473 1976.3L469.6 1968L471.3 1962.4L476.3 1959.7L482.9 1954.7Z" fill="#00441B"/><path d="M429.7 1965L449.7 1963.7L466.3 1963.7L467 1973L464.6 1983L466.3 1993L465.6 2006.3L468 2014.6L463 2019.6L449.7 2027.9L438 2034.6L431.4 2036.2L426.4 2032.9L428 2019.6L425.7 2009.6L429.7 1999.6L431.4 1986.3L429.7 1976.3Z" fill="#238B45"/><path d="M589.3 2069.3L609.9 2069.3L609.9 2079.2L621.6 2079.2L623.2 2088.2L621.6 2099.9L623.2 2109.9L619.9 2118.2L613.2 2119.8L606.6 2116.5L599.9 2118.2L599.3 2123.2L593.3 2126.5L591.6 2134.8L588.3 2138.1L583.3 2134.8L576.6 2128.2L570 2119.8L565 2111.5L561.7 2104.9L566 2098.2L565 2091.5L570 2086.6L580 2084.9L589.3 2083.9Z" fill="#FEE391"/><path d="M671.5 2045L676.5 2036.6L684.8 2035L693.1 2041.6L703.1 2044L713.1 2045L718.1 2038.3L729.7 2036.6L739.7 2035L749.7 2032.6L759.7 2034L768 2033.3L773 2038.3L778 2042.6L789.6 2041.6L796.3 2040L801.3 2048.3L807.9 2051.6L808.9 2059.9L811.2 2068.3L806.3 2076.6L800.3 2084.9L796.9 2094.9L796.9 2104.9L792.9 2113.2L789.6 2119.8L788 2126.5L792.9 2131.5L794.6 2136.5L792.9 2146.5L792.3 2156.4L794.6 2166.4L797.9 2176.4L802.3 2186.4L806.3 2193L799.6 2194.7L789.6 2196.4L784.6 2201.4L782.3 2208L783.6 2218L781.3 2228L782.3 2234.6L789.6 2241.3L796.9 2240.3L796.9 2254.6L791.3 2252.9L786.3 2249.6L781.3 2242.3L774.6 2239.6L768 2238L759.7 2233L753 2229.7L741.4 2231.3L733 2226.3L723.1 2228L713.1 2226.3L711.4 2216.3L708.1 2206.4L708.1 2193L706.4 2183.1L693.1 2182.4L692.4 2179.1L681.5 2179.7L679.8 2186.4L674.8 2189.7L659.8 2191.4L656.5 2184.7L651.5 2176.4L648.2 2168.1L647.2 2165.4L636.5 2165.4L623.2 2165.8L609.9 2165.8L599.9 2165.8L599.3 2161.4L602.6 2154.8L608.3 2151.4L614.9 2149.8L621.6 2147.5L623.2 2151.4L629.9 2149.8L638.2 2143.1L643.2 2133.1L648.2 2124.8L654.8 2116.5L661.5 2103.2L663.8 2089.9L665.8 2076.6L669.2 2063.3L669.8 2053.3Z" fill="#FE9929"/><path d="M801.3 2108.2L807.9 2107.2L826.2 2107.2L842.9 2107.2L852.8 2113.2L872.8 2126.5L889.5 2138.1L904.4 2149.8L901.1 2159.8L899.4 2169.8L906.1 2179.7L907.8 2193L911.1 2206.4L917.7 2219.7L916.1 2223L906.1 2226.3L892.8 2231.3L886.1 2233L876.1 2234.6L866.2 2233L856.2 2233L851.2 2219.7L846.2 2211.3L837.9 2209L829.6 2204.7L821.2 2201.4L812.9 2196.4L806.3 2193L802.3 2186.4L797.9 2176.4L794.6 2166.4L792.3 2156.4L792.9 2146.5L794.6 2146.5L801.3 2143.1L807.9 2134.8L804.6 2129.8L807.9 2116.5L806.3 2110.5Z" fill="#C6DBEF"/><path d="M807.9 2051.6L822.9 2050.6L836.2 2050L846.9 2052.6L852.2 2059.9L854.5 2069.9L852.8 2079.9L846.2 2086.6L842.9 2096.5L842.9 2107.2L826.2 2107.2L807.9 2107.2L801.3 2108.2L796.9 2104.9L796.9 2094.9L800.3 2084.9L806.3 2076.6L811.2 2068.3L808.9 2059.9L807.9 2051.6Z" fill="#DEEBF7"/><path d="M846.9 2052.6L844.5 2046.6L852.8 2036.6L861.2 2030L864.5 2031.6L865.5 2038.3L879.5 2043.3L892.8 2050L902.8 2053.3L912.7 2048.3L921.1 2046.6L932.7 2048.3L926.1 2059.9L922.7 2069.9L923.4 2086.6L924.4 2106.5L929.4 2116.5L921.1 2126.5L912.7 2136.5L904.4 2149.8L889.5 2138.1L872.8 2126.5L852.8 2113.2L842.9 2107.2L842.9 2096.5L846.2 2086.6L852.8 2079.9L854.5 2069.9L852.2 2059.9Z" fill="#084594"/><path d="M792.9 2113.2L797.9 2109.9L806.3 2110.5L807.9 2116.5L804.6 2123.2L797.9 2126.5L789.6 2127.2L788 2121.5Z" fill="#9ECAE1"/><path d="M856.2 2233L866.2 2233L876.1 2234.6L886.1 2233L892.8 2231.3L906.1 2226.3L916.1 2223L917.7 2233L919.4 2246.3L921.1 2266.3L922.7 2270L921.1 2278.3L912.7 2286.6L902.8 2295L889.5 2303.3L879.5 2311.6L869.5 2319.9L859.5 2324.9L852.2 2331.6L854.5 2339.9L859.5 2353.2L861.2 2366.5L861.2 2376.5L857.8 2384.8L849.5 2391.5L839.5 2396.5L831.2 2400.4L828.9 2404.8L831.2 2408.1L832.2 2414.8L822.9 2414.8L822.2 2403.1L821.2 2393.1L817.9 2376.5L814.6 2363.2L819.6 2356.5L826.2 2348.2L825.6 2341.5L832.2 2333.2L831.2 2324.9L832.9 2319.9L832.9 2303.3L831.2 2293.3L819.6 2288.3L809.6 2286L803.6 2285L802.9 2277.9L806.3 2274.6L819.6 2271.2L832.9 2267.9L837.9 2259.6L842.9 2267.9L849.5 2272.9L847.9 2279.9L851.2 2286.6L856.2 2293.2L857.8 2298.2L859.5 2290.2L862.8 2286.2L864.5 2276.2L861.2 2267.9L856.2 2259.6L851.2 2252.9L852.8 2241.3L856.2 2233Z" fill="#6BAED6"/><path d="M837.9 2209L846.2 2211.3L851.2 2219.7L856.2 2233L852.8 2241.3L851.2 2252.9L856.2 2259.6L861.2 2267.9L864.5 2276.2L862.8 2286.2L859.5 2290.2L857.8 2298.2L856.2 2293.2L851.2 2286.6L847.9 2279.9L849.5 2272.9L842.9 2267.9L837.9 2259.6L832.9 2254.6L834.5 2246.3L837.9 2236.3L836.2 2223Z" fill="#4292C6"/><path d="M1016.1 2239.2L1021.1 2244.9L1026.1 2256.5L1028.4 2268.2L1031 2278.2L1028.4 2285.8L1023.7 2279.8L1021.7 2286.5L1022.7 2294.8L1019.4 2303.1L1018.4 2313.1L1014.4 2326.4L1009.4 2339.7L1004.4 2356.4L999.4 2373L994.4 2389.7L986.1 2396.3L972.8 2400.3L962.8 2396.3L956.2 2388L952.8 2376.3L949.5 2364.7L949.5 2354.7L954.5 2346.4L959.5 2336.4L962.8 2326.4L959.5 2314.8L957.2 2303.1L961.2 2291.5L964.5 2287.2L974.5 2285.8L984.5 2282.5L991.1 2276.5L997.8 2269.9L1002.8 2259.9L1007.8 2253.2L1011.7 2244.9Z" fill="#2171B5"/></g>
<path d="M792.9 2131.5L797.9 2126.5L804.6 2129.8L807.9 2134.8L801.3 2143.1L794.6 2146.5Z" fill="#F2F2F2" stroke="#D4D4D4" stroke-width="1"/>
<g fill="#C6DBEF" stroke="#000" stroke-width="1.2"><ellipse cx="908.8" cy="2157.1" rx="1.6" ry="3.2"/><ellipse cx="906.1" cy="2168.4" rx="1.5" ry="3.0"/><ellipse cx="909.4" cy="2186.4" rx="1.2" ry="1.8"/></g>
<g fill="#74C476" stroke="#000" stroke-width="1"><circle cx="276.6" cy="1958.0" r="1.2"/><circle cx="280.6" cy="1959.7" r="1.2"/><circle cx="283.3" cy="1957.0" r="1.2"/><circle cx="279.3" cy="1962.4" r="1.2"/><circle cx="284.9" cy="1953.7" r="1.2"/></g>
<g fill="none" stroke="#000" stroke-width="4" stroke-linecap="butt"><path d="M434.0 1995.8C434.2 1990.7 435.3 1974.0 435.1 1965.3C434.9 1956.6 434.9 1949.3 432.9 1943.5C430.9 1937.7 427.3 1933.4 423.1 1930.5C418.9 1927.6 411.9 1926.8 407.9 1926.1C403.9 1925.4 400.8 1926.1 399.4 1926.1"/><path d="M381.8 1943.5C381.4 1947.1 380.0 1958.0 379.6 1965.3C379.2 1972.6 378.9 1980.6 379.6 1987.1C380.3 1993.6 381.0 2000.3 383.9 2004.5C386.8 2008.7 391.8 2010.6 397.0 2012.1C402.2 2013.6 412.2 2013.4 415.3 2013.7"/><path d="M444.9 2001.2C445.1 1994.3 446.0 1966.6 446.3 1959.7"/><path d="M459.1 1935.9C458.9 1943.0 458.3 1971.4 458.2 1978.6"/><path d="M466.7 2003.4C468.5 2000.7 473.6 1991.6 477.6 1987.1C481.6 1982.6 485.5 1978.6 490.6 1976.2C495.7 1973.8 502.3 1972.9 508.1 1972.9C513.9 1972.9 520.9 1974.8 525.5 1976.2C530.1 1977.6 534.1 1980.6 535.8 1981.5"/><path d="M551.2 2004.9C549.1 2007.7 542.8 2017.2 538.5 2021.9C534.2 2026.6 530.2 2030.3 525.5 2032.8C520.8 2035.3 515.3 2036.5 510.2 2036.7C505.1 2036.9 499.6 2035.3 495.0 2033.9C490.4 2032.5 484.5 2029.1 482.4 2028.2"/><path d="M694.5 2116.5C686.5 2118.4 662.6 2125.0 646.2 2128.2C629.8 2131.4 612.9 2134.4 596.3 2135.8C579.7 2137.2 560.3 2137.5 546.4 2136.5C532.5 2135.5 523.1 2134.2 513.1 2129.8C503.1 2125.4 494.3 2118.8 486.5 2109.9C478.7 2101.0 471.3 2087.0 466.5 2076.6C461.7 2066.2 459.2 2052.3 457.8 2047.5"/><path d="M441.6 2028.9C442.4 2035.7 444.1 2054.8 446.6 2069.9C449.1 2085.1 452.6 2103.2 456.5 2119.8C460.4 2136.5 464.3 2153.2 469.9 2169.8C475.4 2186.5 481.5 2204.7 489.8 2219.7C498.1 2234.7 507.6 2248.5 519.8 2259.6C532.0 2270.7 547.5 2279.6 563.0 2286.2C578.5 2292.8 599.5 2296.1 612.9 2298.9C626.3 2301.7 629.8 2302.9 643.2 2302.9C656.6 2302.9 673.7 2301.7 693.1 2298.9C712.5 2296.1 740.3 2289.7 759.7 2286.2C779.1 2282.7 797.7 2279.5 809.6 2277.9C821.5 2276.3 827.4 2276.7 830.9 2276.4"/><path d="M704.8 2109.9C710.6 2102.1 728.3 2075.8 739.7 2063.3C751.1 2050.8 763.0 2040.8 773.0 2035.0C783.0 2029.2 790.7 2028.3 799.6 2028.3C808.5 2028.3 819.3 2032.2 826.2 2035.0C833.1 2037.8 836.5 2040.8 841.2 2045.0C845.9 2049.2 849.8 2054.0 854.6 2059.9C859.4 2065.8 866.5 2075.6 870.1 2080.3C873.7 2085.0 874.9 2086.7 875.9 2088.0"/><path d="M714.7 2111.5C720.0 2114.0 736.7 2122.3 746.4 2126.5C756.1 2130.7 765.2 2134.8 773.0 2136.5C780.8 2138.2 787.4 2138.2 792.9 2136.5C798.4 2134.8 802.7 2132.3 806.3 2126.5C809.9 2120.7 813.4 2106.0 814.8 2101.9"/><path d="M721.4 2123.2C726.7 2126.5 742.2 2137.8 753.0 2143.1C763.8 2148.4 777.4 2152.9 786.3 2154.8C795.2 2156.8 800.2 2156.8 806.3 2154.8C812.4 2152.9 818.2 2151.3 822.9 2143.1C827.6 2134.9 832.5 2111.8 834.5 2105.6"/><path d="M705.4 2123.8C706.4 2128.7 709.0 2141.6 711.4 2153.1C713.8 2164.6 716.1 2179.7 719.7 2193.0C723.3 2206.3 727.5 2222.4 733.0 2233.0C738.5 2243.6 745.2 2251.0 753.0 2256.3C760.8 2261.6 769.9 2263.6 779.6 2264.6C789.3 2265.6 805.8 2262.7 811.1 2262.3"/></g>
<g fill="#000"><path d="M373.1 1927.9L403.4 1917.3L397.8 1926.2L404.6 1934.2Z"/><path d="M441.6 2012.8L410.9 2022.4L416.8 2013.7L410.3 2005.4Z"/><path d="M447.1 1935.9L454.1 1964.2L446.3 1958.3L438.1 1963.6Z"/><path d="M456.5 2002.3L450.5 1973.8L458.1 1980.0L466.4 1974.9Z"/><path d="M558.6 1994.7L526.8 1987.9L537.1 1982.3L536.8 1970.5Z"/><path d="M459.1 2015.8L490.7 2022.4L481.0 2027.4L482.2 2038.3Z"/><path d="M451.4 2021.9L467.6 2049.8L457.4 2046.0L450.2 2054.2Z"/><path d="M856.2 2272.9L827.7 2285.5L832.4 2276.2L825.3 2268.7Z"/><path d="M893.2 2107.9L865.7 2090.7L876.9 2089.2L880.0 2078.3Z"/><path d="M821.8 2075.6L821.7 2108.7L815.2 2100.3L805.3 2104.3Z"/><path d="M839.2 2078.8L842.0 2111.8L834.8 2104.0L825.3 2108.8Z"/><path d="M836.2 2257.9L808.1 2271.5L812.6 2262.1L805.2 2254.7Z"/></g>
<g class="dv" font-weight="bold" font-size="29.9" fill="#000"><text x="761.0" y="2017.0">1995</text><text x="471.6" y="2171.4">1994</text><text x="795.4" y="2179.0">1996</text><text x="686.0" y="2289.0">1996</text><text x="478.4" y="2322.0">1996</text></g>
<text x="21.2" y="1764" font-size="52.2" class="dv" fill="#000">b</text>
</svg>
</body></html>
